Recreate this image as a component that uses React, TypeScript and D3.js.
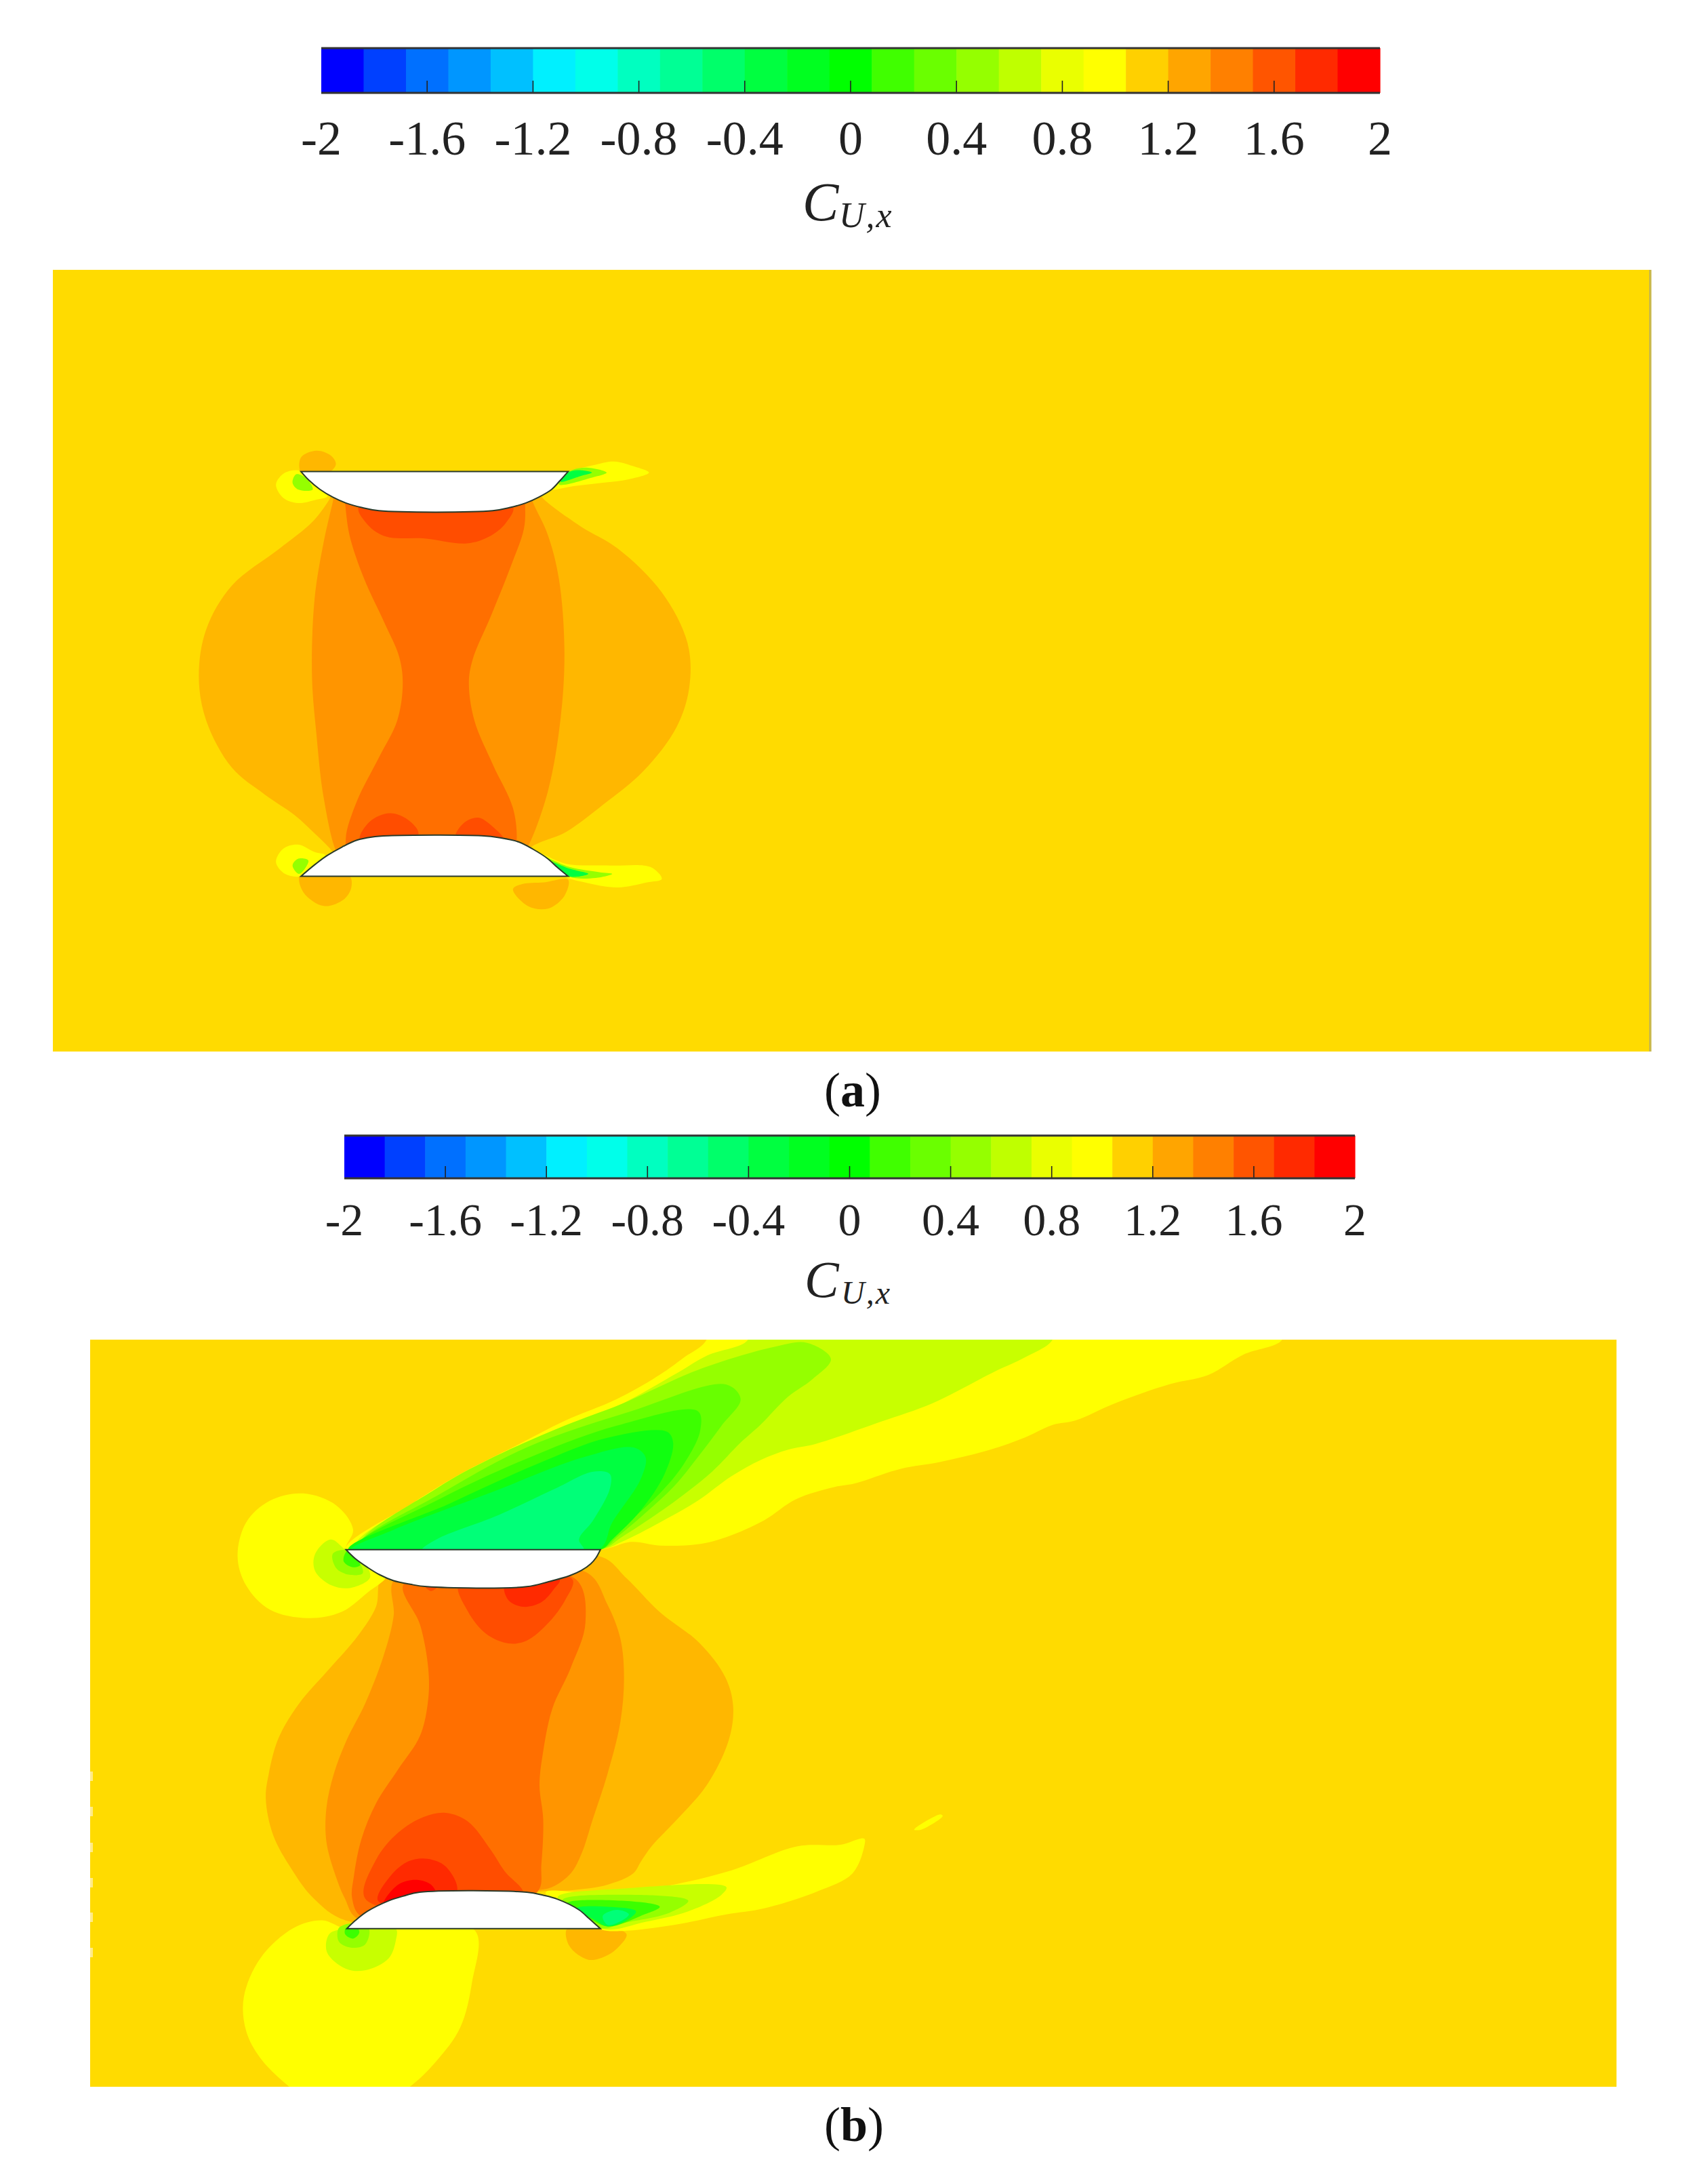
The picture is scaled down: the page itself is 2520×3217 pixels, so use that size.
import React from "react";
import * as d3 from "d3";

type Pt = [number, number];
type Contour = { level: string; frame: string; pts: Pt[] };

// Colour bar
const barBands = [
  "#0000ff","#0040ff","#0070ff","#0096ff","#00c0ff","#00f0ff","#00ffea","#00ffc0","#00ff95","#00ff6a",
  "#00ff40","#00ff20","#00ff00","#40ff00","#6aff00","#95ff00","#bfff00","#eaff00","#ffff00","#ffd000",
  "#ffa500","#ff8000","#ff5500","#ff2a00","#ff0000",
];
const barTicks = [-2, -1.6, -1.2, -0.8, -0.4, 0, 0.4, 0.8, 1.2, 1.6, 2];
const barTickLabels = ["-2", "-1.6", "-1.2", "-0.8", "-0.4", "0", "0.4", "0.8", "1.2", "1.6", "2"];

// Field colours by contour band (C_U,x level)
const fieldColour: Record<string, string> = {
  "1.0": "#ffdb00", "1.2": "#ffb700", "1.35": "#ff9500", "1.5": "#ff6f00", "1.65": "#ff4d00",
  "1.8": "#ff2a00", "1.95": "#ff0000", "0.85": "#ffff00", "0.7": "#c8ff00", "0.55": "#95ff00",
  "0.4": "#68ff00", "0.25": "#3cff00", "0.1": "#10ff10", "-0.05": "#00ff40", "-0.25": "#00ff78",
};

// Panel (a): contour outlines read on the reference grid
const aLens: Pt[] = [[445,215],[435,235],[390,300],[300,380],[170,490],[100,620],[80,760],[100,890],[170,1030],[260,1110],[340,1170],[400,1230],[445,1280],[470,1320],[720,1320],[960,1300],[985,1265],[1080,1220],[1180,1140],[1290,1040],[1380,910],[1415,790],[1410,660],[1340,510],[1220,380],[1120,315],[1020,235],[1000,210],[720,190]];
const aBand: Pt[] = [[450,215],[445,240],[420,360],[395,530],[388,760],[400,930],[420,1120],[455,1280],[480,1315],[720,1320],[950,1300],[975,1265],[1030,1100],[1065,880],[1075,680],[1060,470],[1030,340],[990,245],[980,215],[720,190]];
const aCore: Pt[] = [[475,215],[478,245],[490,340],[530,470],[585,600],[625,700],[635,780],[620,890],[570,1000],[510,1130],[480,1240],[490,1290],[720,1310],[935,1290],[945,1245],[935,1150],[880,1020],[830,890],[815,780],[825,710],[875,580],[930,430],[965,320],[968,250],[965,215],[720,190]];
const aTopHot: Pt[] = [[515,255],[540,310],[590,345],[690,350],[810,365],[870,345],[915,305],[935,255],[720,220]];
const aLowHotL: Pt[] = [[518,1245],[545,1190],[600,1165],[650,1185],[678,1225],[650,1260],[570,1270]];
const aLowHotR: Pt[] = [[778,1240],[800,1195],[840,1178],[880,1205],[910,1245],[850,1270]];
const aBlobTop: Pt[] = [[358,155],[358,110],[400,90],[440,105],[453,130],[435,155],[400,170]];
const aBlobLowL: Pt[] = [[355,1350],[365,1400],[420,1440],[475,1420],[495,1385],[490,1350],[420,1335]];
const aBlobLowR: Pt[] = [[935,1390],[975,1440],[1030,1448],[1075,1410],[1085,1362],[1020,1370],[960,1375]];
const aYellowUp: Pt[] = [[358,150],[315,155],[290,190],[310,230],[350,245],[400,235],[430,225],[395,190]];
const aLimeUp: Pt[] = [[345,160],[335,185],[350,205],[390,205],[370,170]];
const aYellowLow: Pt[] = [[358,1352],[315,1345],[290,1310],[310,1270],[350,1258],[395,1280],[425,1290],[395,1325]];
const aLimeLow: Pt[] = [[352,1345],[335,1320],[350,1300],[378,1305],[365,1335]];
const aWakeUp1: Pt[] = [[1060,165],[1165,130],[1210,122],[1260,135],[1305,155],[1250,175],[1180,185],[1100,195],[1030,205]];
const aWakeUp2: Pt[] = [[1075,158],[1130,140],[1190,155],[1150,170],[1060,190]];
const aWakeUp3: Pt[] = [[1085,155],[1110,148],[1150,155],[1120,165],[1065,182]];
const aWakeLow1: Pt[] = [[1000,1280],[1080,1315],[1200,1320],[1310,1325],[1340,1360],[1300,1370],[1220,1385],[1130,1370],[1075,1352]];
const aWakeLow2: Pt[] = [[1020,1295],[1090,1325],[1170,1340],[1205,1345],[1160,1357],[1085,1352]];
const aWakeLow3: Pt[] = [[1040,1310],[1090,1330],[1140,1345],[1085,1352]];
const aFoilTop: Pt[] = [[358,152],[1085,152],[1062,180],[1040,205],[1005,228],[970,245],[925,259],[880,268],[570,268],[525,259],[480,245],[445,228],[410,205],[380,178]];
const aFoilLow: Pt[] = [[358,1352],[1085,1352],[1055,1325],[1030,1300],[990,1272],[950,1250],[900,1238],[850,1232],[595,1232],[550,1236],[510,1245],[470,1265],[430,1290],[395,1318]];

// Panel (b): gap contours
const bLens: Pt[] = [[490,70],[470,210],[420,340],[340,490],[260,640],[205,790],[178,950],[170,1060],[190,1220],[240,1370],[300,1500],[388,1598],[720,1600],[900,1475],[1000,1465],[1100,1440],[1170,1390],[1190,1340],[1220,1270],[1290,1150],[1370,1000],[1430,800],[1442,650],[1420,520],[1350,370],[1240,230],[1152,84],[1081,-12],[760,40]];
const bBand: Pt[] = [[520,90],[518,250],[490,430],[440,640],[390,800],[355,950],[335,1100],[335,1250],[360,1400],[385,1500],[420,1590],[720,1590],[900,1470],[950,1450],[1000,1390],[1030,1300],[1060,1150],[1100,950],[1135,720],[1145,520],[1135,350],[1100,200],[1045,60],[760,40]];
const bCore: Pt[] = [[545,110],[590,290],[612,480],[612,620],[590,780],[530,930],[470,1080],[430,1240],[410,1400],[405,1500],[430,1580],[720,1580],[910,1470],[920,1350],[925,1150],[915,1000],[925,850],[950,660],[1000,480],[1040,280],[1015,90],[760,50]];
const bTopHot: Pt[] = [[695,110],[720,230],[770,330],[830,372],[880,360],[940,280],[985,180],[1005,90],[850,70]];
const bTopHotter: Pt[] = [[820,110],[830,180],[870,210],[920,190],[955,130],[970,90],[880,70]];
const bTopSpot: Pt[] = [[600,110],[620,140],[640,115],[620,95]];
const bLowHot: Pt[] = [[440,1500],[470,1330],[530,1210],[600,1140],[660,1122],[720,1160],[780,1280],[820,1380],[870,1480],[660,1560]];
const bLowHotter: Pt[] = [[475,1510],[510,1400],[560,1335],[610,1325],[660,1360],[690,1470],[580,1540]];
const bLowHottest: Pt[] = [[490,1530],[530,1440],[580,1418],[620,1440],[632,1480],[560,1530]];

// Panel (b): upper plate
const bUpBlob: Pt[] = [[300,912],[315,830],[280,730],[210,680],[140,710],[90,800],[72,940],[90,1060],[140,1160],[220,1195],[290,1170],[345,1090],[385,1020],[340,980]];
const bUpBlob2: Pt[] = [[300,915],[268,870],[235,930],[235,1000],[270,1060],[310,1070],[350,1030],[345,985]];
const bUpBlob3: Pt[] = [[300,915],[272,930],[280,990],[305,1015],[335,1010],[330,970]];
const bUpBlob4: Pt[] = [[302,920],[295,960],[315,985],[330,975]];
const bWake1: Pt[] = [[300,912],[440,720],[540,600],[660,480],[760,380],[870,290],[960,190],[1010,120],[1058,46],[1058,-40],[2269,-40],[2269,45],[2187,107],[2113,191],[2032,229],[1917,308],[1835,378],[1786,397],[1729,448],[1655,499],[1549,550],[1467,578],[1369,639],[1328,653],[1246,704],[1180,790],[1100,860],[1040,890],[960,895],[900,880],[835,912]];
const bWake2: Pt[] = [[320,900],[460,700],[560,590],[700,460],[870,320],[990,190],[1060,110],[1145,46],[1145,-40],[1786,-40],[1786,45],[1729,117],[1664,177],[1533,308],[1426,383],[1287,476],[1230,499],[1173,541],[1110,610],[1040,710],[960,800],[880,880],[835,912]];
const bWake3: Pt[] = [[330,895],[490,660],[600,540],[760,400],[880,310],[1040,170],[1200,75],[1270,58],[1320,125],[1280,210],[1230,280],[1170,400],[1130,470],[1070,590],[1000,700],[950,770],[880,860],[835,912]];
const bWake4: Pt[] = [[330,895],[500,680],[680,490],[900,340],[1100,230],[1130,290],[1090,400],[1040,530],[990,650],[930,760],[870,860],[835,912]];
const bWake5: Pt[] = [[320,905],[500,700],[700,520],[870,400],[1040,340],[1045,420],[1010,560],[960,680],[900,790],[850,880],[835,912]];
const bWake6: Pt[] = [[305,912],[520,720],[700,560],[850,450],[975,425],[988,470],[970,600],[920,750],[860,870],[835,912]];
const bWake7: Pt[] = [[310,915],[400,830],[600,680],[800,530],[905,490],[930,530],[920,620],[860,800],[830,915]];
const bWakeCore: Pt[] = [[460,915],[490,870],[620,770],[740,660],[820,590],[855,600],[855,660],[820,790],[790,870],[800,915]];
const bFoilTop: Pt[] = [[300,912],[835,912],[826,945],[815,970],[795,998],[770,1020],[725,1045],[680,1065],[470,1065],[435,1055],[400,1040],[370,1015],[345,985],[320,950]];

// Panel (b): lower plate
const bLowBlob: Pt[] = [[302,772],[250,745],[190,770],[120,870],[85,1000],[90,1110],[120,1200],[185,1300],[300,1420],[430,1300],[490,1210],[540,1100],[565,950],[572,780],[430,740]];
const bLowBlob2: Pt[] = [[302,770],[265,790],[260,850],[300,905],[340,910],[390,870],[405,810],[405,772],[350,755]];
const bLowBlob3: Pt[] = [[285,770],[285,815],[310,835],[340,825],[348,772],[315,755]];
const bLowBlob4: Pt[] = [[300,770],[298,790],[315,805],[328,785],[320,762]];
const bLowBlobR: Pt[] = [[765,772],[770,830],[810,875],[850,860],[875,830],[890,790],[830,765]];
const bLowWake1: Pt[] = [[720,652],[860,660],[980,630],[1110,580],[1250,500],[1340,495],[1390,475],[1390,500],[1365,590],[1290,650],[1180,705],[1100,725],[990,760],[880,780],[835,775],[770,720]];
const bLowWake2: Pt[] = [[745,668],[880,640],[1100,635],[1090,660],[1020,715],[930,750],[845,774],[790,720]];
const bLowWake3: Pt[] = [[755,678],[880,660],[1020,680],[980,720],[880,755],[840,772],[790,725]];
const bLowWake4: Pt[] = [[765,688],[880,680],[960,700],[920,730],[850,765],[800,725]];
const bLowWake5: Pt[] = [[785,705],[850,700],[910,715],[890,745],[850,765],[825,745]];
const bLowWake6: Pt[] = [[840,730],[870,710],[895,725],[875,750],[850,760]];
const bLowStreak: Pt[] = [[1495,445],[1550,395],[1555,400],[1510,445]];
const bFoilLow: Pt[] = [[302,772],[835,772],[812,740],[790,710],[745,675],[715,662],[680,652],[455,652],[420,665],[390,680],[345,715],[320,745]];

const bEdgeNotchY = [2620, 2672, 2725, 2777, 2828, 2880];

const panelAContours: Contour[] = [
  { level: "1.2", frame: "a", pts: aLens }, { level: "1.35", frame: "a", pts: aBand }, { level: "1.5", frame: "a", pts: aCore },
  { level: "1.65", frame: "a", pts: aTopHot }, { level: "1.65", frame: "a", pts: aLowHotL }, { level: "1.65", frame: "a", pts: aLowHotR },
  { level: "1.2", frame: "a", pts: aBlobTop }, { level: "1.2", frame: "a", pts: aBlobLowL }, { level: "1.2", frame: "a", pts: aBlobLowR },
  { level: "0.85", frame: "a", pts: aYellowUp }, { level: "0.55", frame: "a", pts: aLimeUp },
  { level: "0.85", frame: "a", pts: aYellowLow }, { level: "0.55", frame: "a", pts: aLimeLow },
  { level: "0.85", frame: "a", pts: aWakeUp1 }, { level: "0.55", frame: "a", pts: aWakeUp2 }, { level: "-0.05", frame: "a", pts: aWakeUp3 },
  { level: "0.85", frame: "a", pts: aWakeLow1 }, { level: "0.55", frame: "a", pts: aWakeLow2 }, { level: "-0.05", frame: "a", pts: aWakeLow3 },
];
const panelBContours: Contour[] = [
  { level: "1.2", frame: "mid", pts: bLens }, { level: "1.35", frame: "mid", pts: bBand }, { level: "1.5", frame: "mid", pts: bCore },
  { level: "1.65", frame: "mid", pts: bTopHot }, { level: "1.8", frame: "mid", pts: bTopHotter }, { level: "1.65", frame: "mid", pts: bTopSpot },
  { level: "1.65", frame: "mid", pts: bLowHot }, { level: "1.8", frame: "mid", pts: bLowHotter }, { level: "1.95", frame: "mid", pts: bLowHottest },
  { level: "0.85", frame: "up", pts: bUpBlob }, { level: "0.7", frame: "up", pts: bUpBlob2 }, { level: "0.55", frame: "up", pts: bUpBlob3 }, { level: "0.25", frame: "up", pts: bUpBlob4 },
  { level: "0.85", frame: "up", pts: bWake1 }, { level: "0.7", frame: "up", pts: bWake2 }, { level: "0.55", frame: "up", pts: bWake3 },
  { level: "0.4", frame: "up", pts: bWake4 }, { level: "0.25", frame: "up", pts: bWake5 }, { level: "0.1", frame: "up", pts: bWake6 },
  { level: "-0.05", frame: "up", pts: bWake7 }, { level: "-0.25", frame: "up", pts: bWakeCore },
  { level: "0.85", frame: "low", pts: bLowBlob }, { level: "0.7", frame: "low", pts: bLowBlob2 }, { level: "0.55", frame: "low", pts: bLowBlob3 }, { level: "0.25", frame: "low", pts: bLowBlob4 },
  { level: "1.2", frame: "low", pts: bLowBlobR },
  { level: "0.85", frame: "low", pts: bLowWake1 }, { level: "0.7", frame: "low", pts: bLowWake2 }, { level: "0.55", frame: "low", pts: bLowWake3 },
  { level: "0.25", frame: "low", pts: bLowWake4 }, { level: "-0.05", frame: "low", pts: bLowWake5 }, { level: "-0.25", frame: "low", pts: bLowWake6 },
  { level: "0.85", frame: "low", pts: bLowStreak },
];

// Grid frames: how each read-off grid maps onto the page
const frames: Record<string, { x: d3.ScaleLinear<number, number>; y: d3.ScaleLinear<number, number> }> = {
  a: { x: d3.scaleLinear().domain([0, 1568]).range([250, 1100]), y: d3.scaleLinear().domain([0, 1568]).range([620, 1400]) },
  mid: { x: d3.scaleLinear().domain([0, 1568]).range([300, 1150]), y: d3.scaleLinear().domain([0, 1500]).range([2300, 2800]) },
  up: { x: d3.scaleLinear().domain([0, 1568]).range([300, 1400]), y: d3.scaleLinear().domain([0, 1568]).range([1960, 2520]) },
  low: { x: d3.scaleLinear().domain([0, 1568]).range([300, 1400]), y: d3.scaleLinear().domain([0, 1568]).range([2500, 3200]) },
};

const smooth = (c: { frame: string; pts: Pt[] }, curve: any) =>
  d3.line<Pt>().x((p) => frames[c.frame].x(p[0])).y((p) => frames[c.frame].y(p[1])).curve(curve)(c.pts) || "";

// A foil: rounded arc from right tip round to left tip, closed by the straight chord
const foilPath = (f: { frame: string; pts: Pt[] }) =>
  smooth({ frame: f.frame, pts: [...f.pts.slice(1), f.pts[0]] }, d3.curveCatmullRom.alpha(0.5)) + "Z";

const SERIF = "'Liberation Serif', 'DejaVu Serif', serif";
const INK = "#222";

function ColourBar({ x0, x1, top, bottom, labelY, size, cY, cX }: any) {
  const x = d3.scaleLinear().domain([-2, 2]).range([x0, x1]);
  const step = 4 / barBands.length;
  return (
    <g>
      {barBands.map((c, i) => (
        <rect key={c + i} x={x(-2 + i * step)} y={top} width={x(-2 + (i + 1) * step) - x(-2 + i * step) + 0.6} height={bottom - top} fill={c} />
      ))}
      {barTicks.slice(1, -1).map((t) => (
        <line key={t} x1={x(t)} x2={x(t)} y1={bottom} y2={bottom - 18} stroke="#222" strokeWidth={1.6} />
      ))}
      <line x1={x0} x2={x1} y1={top} y2={top} stroke="#333" strokeWidth={3} />
      <line x1={x0} x2={x1} y1={bottom} y2={bottom} stroke="#333" strokeWidth={3} />
      {barTicks.map((t, i) => (
        <text key={t} x={x(t)} y={labelY} fontFamily={SERIF} fontSize={size} fill={INK} textAnchor="middle">{barTickLabels[i]}</text>
      ))}
      <text x={cX} y={cY} fontFamily={SERIF} fontStyle="italic" fontSize={size + 8} fill={INK}>C</text>
      <text x={cX + 54} y={cY + 10} fontFamily={SERIF} fontStyle="italic" fontSize={size - 20} letterSpacing={2} fill={INK}>U,x</text>
    </g>
  );
}

function Panel({ id, x0, x1, y0, y1, contours, foils }: any) {
  return (
    <g>
      <clipPath id={id}><rect x={x0} y={y0} width={x1 - x0} height={y1 - y0} /></clipPath>
      <g clipPath={`url(#${id})`}>
        <rect x={x0} y={y0} width={x1 - x0} height={y1 - y0} fill={fieldColour["1.0"]} />
        {contours.map((c: Contour, i: number) => (
          <path key={i} d={smooth(c, d3.curveCatmullRomClosed.alpha(0.5))} fill={fieldColour[c.level]} />
        ))}
        {foils.map((f: { frame: string; pts: Pt[] }, i: number) => (
          <path key={i} d={foilPath(f)} fill="#fff" stroke="#2a3a2a" strokeWidth={2} />
        ))}
      </g>
    </g>
  );
}

export default function App() {
  return (
    <svg width={2520} height={3217} viewBox="0 0 2520 3217" style={{ position: "absolute", left: 0, top: 0, display: "block", background: "#fff" }}>
      <ColourBar x0={474} x1={2036} top={71} bottom={137} labelY={228} size={72} cX={1184} cY={325} />
      <Panel id="pa" x0={78} x1={2436} y0={398} y1={1551} contours={panelAContours}
        foils={[{ frame: "a", pts: aFoilTop }, { frame: "a", pts: aFoilLow }]} />
      <rect x={2433} y={398} width={3.5} height={1153} fill="#c9b84a" />
      <text x={1258} y={1632} fontFamily={SERIF} fontSize={72} fill="#111" textAnchor="middle">(<tspan fontWeight="bold">a</tspan>)</text>

      <ColourBar x0={508} x1={1999} top={1675} bottom={1738} labelY={1822} size={68} cX={1187} cY={1913} />
      <Panel id="pb" x0={133} x1={2385} y0={1976} y1={3078} contours={panelBContours}
        foils={[{ frame: "up", pts: bFoilTop }, { frame: "low", pts: bFoilLow }]} />
      {bEdgeNotchY.map((y) => (
        <rect key={y} x={133} y={y - 7} width={4} height={14} fill="#ffeb8a" />
      ))}
      <text x={1260} y={3158} fontFamily={SERIF} fontSize={72} fill="#111" textAnchor="middle">(<tspan fontWeight="bold">b</tspan>)</text>
    </svg>
  );
}
